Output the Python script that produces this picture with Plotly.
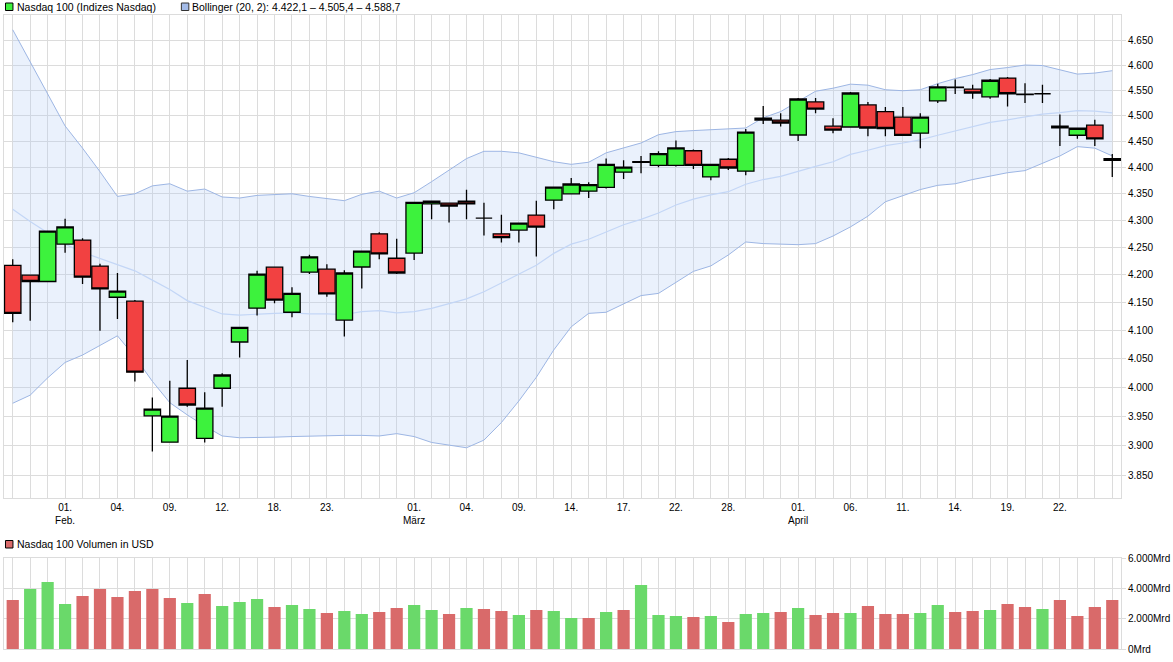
import math
import plotly.graph_objects as go

dates = [
    "2016-01-27", "2016-01-28", "2016-01-29",
    "2016-02-01", "2016-02-02", "2016-02-03", "2016-02-04", "2016-02-05",
    "2016-02-08", "2016-02-09", "2016-02-10", "2016-02-11", "2016-02-12",
    "2016-02-16", "2016-02-17", "2016-02-18", "2016-02-19",
    "2016-02-22", "2016-02-23", "2016-02-24", "2016-02-25", "2016-02-26",
    "2016-02-29",
    "2016-03-01", "2016-03-02", "2016-03-03", "2016-03-04",
    "2016-03-07", "2016-03-08", "2016-03-09", "2016-03-10", "2016-03-11",
    "2016-03-14", "2016-03-15", "2016-03-16", "2016-03-17", "2016-03-18",
    "2016-03-21", "2016-03-22", "2016-03-23", "2016-03-24",
    "2016-03-28", "2016-03-29", "2016-03-30", "2016-03-31",
    "2016-04-01",
    "2016-04-04", "2016-04-05", "2016-04-06", "2016-04-07", "2016-04-08",
    "2016-04-11", "2016-04-12", "2016-04-13", "2016-04-14", "2016-04-15",
    "2016-04-18", "2016-04-19", "2016-04-20", "2016-04-21", "2016-04-22",
    "2016-04-25", "2016-04-26", "2016-04-27",
]

open_ = [4217, 4199, 4187.5, 4256, 4263.5, 4215.6, 4159, 4152, 3950.4, 3905.5,
         3998, 3912, 3998, 4079, 4139.4, 4213.6, 4132, 4204.6, 4210, 4118,
         4214, 4275, 4230, 4239.5, 4331, 4332.5, 4336, 4304.4, 4275, 4282,
         4310, 4338, 4350, 4355, 4362, 4391, 4410, 4404, 4404, 4432,
         4382, 4415.7, 4393, 4495.4, 4491.5, 4462.4, 4527, 4479.5, 4478, 4521,
         4508, 4497, 4466, 4529, 4556, 4552, 4537, 4574, 4542.5, 4543,
         4479.5, 4462, 4481.5, 4413.5]
high = [4228, 4200, 4281, 4303, 4267, 4220, 4203, 4154, 3982, 4011,
        4047.5, 3991, 4024, 4106, 4207, 4214, 4177, 4236.4, 4219, 4208,
        4243, 4278, 4266, 4335, 4336, 4333, 4357.6, 4333, 4310.5, 4295,
        4337, 4363, 4380, 4372, 4417, 4414, 4422, 4431, 4451.6, 4434.6,
        4406, 4418, 4474, 4519, 4505, 4534.6, 4534.6, 4495, 4546.5, 4527,
        4517, 4517, 4505, 4563, 4571, 4561, 4572, 4576, 4564, 4561,
        4502.5, 4476, 4492, 4426]
low = [4114, 4117, 4186, 4240, 4183, 4099, 4120, 4009.6, 3889.6, 3905,
       3966, 3905, 3966, 4051.6, 4126, 4148, 4123, 4201, 4160, 4088.7,
       4175, 4228, 4201, 4227, 4302, 4296, 4302, 4272, 4259, 4259,
       4233, 4321, 4349, 4342, 4360, 4378, 4389, 4400.6, 4402, 4397,
       4375.6, 4395, 4385, 4484, 4479, 4451, 4505, 4466, 4477, 4460,
       4460, 4461, 4437, 4525, 4542.6, 4533, 4533, 4518, 4525, 4525,
       4441, 4455, 4441, 4382]
close = [4130, 4187.5, 4280, 4288, 4195.5, 4174, 4170, 4026, 3962, 3950,
         3969, 3963.6, 4021, 4105, 4201, 4154, 4166, 4232.7, 4165, 4203,
         4243, 4238, 4203, 4334, 4336, 4327, 4331, 4304.4, 4268, 4295,
         4287.6, 4362.7, 4368.5, 4367.5, 4406, 4400.6, 4411, 4426.5, 4437.5, 4404,
         4406, 4399, 4468, 4491.5, 4485.7, 4532.7, 4513, 4472, 4544.5, 4476,
         4475, 4461.6, 4497, 4556.5, 4555, 4544.5, 4569.7, 4543, 4541.5, 4543,
         4476.5, 4475.5, 4455, 4417]

bb_upper = [4671, 4607, 4545, 4480, 4437, 4392, 4345, 4350, 4365, 4369,
            4355, 4359, 4344, 4342, 4347, 4348, 4350, 4345, 4341, 4337,
            4349, 4355, 4342, 4352, 4373, 4395, 4417, 4431, 4431, 4428,
            4420, 4411, 4406, 4410, 4428, 4437, 4447, 4463, 4469, 4471,
            4473, 4474, 4476, 4496, 4508, 4528, 4548, 4554, 4562, 4560,
            4551, 4549, 4551, 4563, 4573, 4581, 4591, 4595, 4600, 4599,
            4591, 4582, 4584, 4588.7]
bb_mid = [4321, 4298, 4277, 4256, 4241, 4230, 4219, 4207, 4190, 4173,
          4153, 4141, 4129, 4127, 4129, 4130, 4131, 4129, 4129, 4128,
          4133, 4135, 4131, 4133, 4139, 4147, 4156, 4169, 4185, 4201,
          4217, 4239, 4256, 4265, 4279, 4292, 4302, 4314, 4329, 4340,
          4348, 4354, 4368, 4377, 4383, 4393, 4402, 4411, 4425, 4433,
          4442, 4447, 4453, 4462, 4470, 4479, 4487, 4492, 4498, 4503,
          4506, 4510, 4509, 4505.4]
bb_lower = [3972, 3986, 4016, 4043, 4056, 4073, 4090, 4053, 4010, 3973,
            3952, 3933, 3916, 3913, 3913, 3914, 3915, 3916, 3916, 3917,
            3917, 3916, 3920, 3915, 3905, 3900, 3896, 3909, 3939, 3976,
            4017, 4065, 4106, 4130, 4132, 4147, 4162, 4166, 4186, 4206,
            4216, 4236, 4260, 4257, 4256, 4255, 4257, 4271, 4288, 4308,
            4335, 4346, 4358, 4366, 4369, 4377, 4383, 4390, 4394, 4408,
            4422, 4440, 4437, 4422.1]

volume = [3230, 3956, 4418, 2967, 3495, 3956, 3429, 3824, 3956, 3363,
          3033, 3626, 2835, 3099, 3297, 2769, 2901, 2637, 2374, 2506,
          2308, 2440, 2703, 2901, 2571, 2308, 2703, 2637, 2506, 2242,
          2571, 2506, 2044, 2044, 2440, 2571, 4220, 2242, 2176, 2110,
          2176, 1780, 2308, 2374, 2440, 2703, 2242, 2374, 2374, 2835,
          2308, 2308, 2374, 2901, 2440, 2506, 2571, 2967, 2769, 2637,
          3231, 2176, 2769, 3231]

tick_labels = {
    "2016-02-01": "01.<br>Feb.", "2016-02-04": "04.", "2016-02-09": "09.",
    "2016-02-12": "12.", "2016-02-18": "18.", "2016-02-23": "23.",
    "2016-03-01": "01.<br>März", "2016-03-04": "04.", "2016-03-09": "09.",
    "2016-03-14": "14.", "2016-03-17": "17.", "2016-03-22": "22.",
    "2016-03-28": "28.", "2016-04-01": "01.<br>April", "2016-04-06": "06.",
    "2016-04-11": "11.", "2016-04-14": "14.", "2016-04-19": "19.",
    "2016-04-22": "22.",
}
price_ticks = [3850, 3900, 3950, 4000, 4050, 4100, 4150, 4200, 4250, 4300,
               4350, 4400, 4450, 4500, 4550, 4600, 4650]
volume_ticks = [0, 2000, 4000, 6000]

legend_price = "Nasdaq 100 (Indizes Nasdaq)"
legend_bb = "Bollinger (20, 2): 4.422,1 \u2013 4.505,4 \u2013 4.588,7"
legend_vol = "Nasdaq 100 Volumen in USD"

# ---- styles ----
GRID = "#DCDCDC"
GREEN = "#3DF23D"
RED = "#F24141"
VGREEN = "#6AD96A"
VRED = "#D96A6A"
BAND_LINE = "#9DB6E4"
MID_LINE = "#C3D6F6"
BAND_FILL = "rgba(170,200,245,0.25)"
FONT = "Liberation Sans"

vol_colors = [VRED] + [VGREEN if close[i] > close[i - 1] else VRED
                       for i in range(1, len(close))]

fig = go.Figure()
fig.add_trace(go.Scatter(x=dates, y=bb_lower, mode="lines",
                         line=dict(color=BAND_LINE, width=1),
                         hoverinfo="skip", showlegend=False))
fig.add_trace(go.Scatter(x=dates, y=bb_upper, mode="lines",
                         line=dict(color=BAND_LINE, width=1),
                         fill="tonexty", fillcolor=BAND_FILL,
                         hoverinfo="skip", showlegend=False))
fig.add_trace(go.Scatter(x=dates, y=bb_mid, mode="lines",
                         line=dict(color=MID_LINE, width=1.2),
                         hoverinfo="skip", showlegend=False))
# candles on an overlaying axis so they are drawn above the band fill
fig.add_trace(go.Candlestick(
    x=dates, open=open_, high=high, low=low, close=close,
    increasing=dict(fillcolor=GREEN, line=dict(color="black", width=1.3)),
    decreasing=dict(fillcolor=RED, line=dict(color="black", width=1.3)),
    whiskerwidth=0, showlegend=False, hoverinfo="skip",
    xaxis="x", yaxis="y3"))
fig.add_trace(go.Bar(x=dates, y=volume, marker=dict(color=vol_colors, line=dict(width=0)),
                     xaxis="x2", yaxis="y2", showlegend=False, hoverinfo="skip"))

# pixel helpers for paper coordinates
L, R, T, B = 3, 49, 15, 13
W, H = 1173, 662
pw, ph = W - L - R, H - T - B


def px(x):
    return (x - L) / pw


def py(y):
    return (H - B - y) / ph


main_bottom = py(498)
vol_top = py(558)
yrange = [math.log10(3812), math.log10(4701)]

ticktext = [tick_labels.get(d, "") for d in dates]

axis_common = dict(showgrid=True, gridcolor=GRID, gridwidth=1,
                   showline=True, linecolor=GRID, linewidth=1, mirror=True,
                   zeroline=False)

fig.update_layout(
    width=W, height=H,
    margin=dict(l=L, r=R, t=T, b=B),
    paper_bgcolor="white", plot_bgcolor="white",
    separators=",.",
    font=dict(family=FONT, size=10, color="black"),
    boxgap=0.06, boxgroupgap=0.0,
    bargap=0.3,
    xaxis=dict(type="category", domain=[0, 1], anchor="y",
               range=[-0.5, len(dates) - 0.5],
               tickmode="array", tickvals=dates, ticktext=ticktext,
               ticks="", tickfont=dict(size=10, family=FONT),
               rangeslider=dict(visible=False), **axis_common),
    yaxis=dict(type="log", domain=[main_bottom, 1], anchor="x", side="right",
               range=yrange,
               tickmode="array", tickvals=price_ticks,
               ticktext=[f"{v:,}".replace(",", ".") for v in price_ticks],
               ticks="outside", ticklen=4, tickcolor=GRID,
               tickfont=dict(size=10, family=FONT), **axis_common),
    yaxis3=dict(type="log", overlaying="y", anchor="x", side="right",
                range=yrange, showgrid=False, showline=False, zeroline=False,
                showticklabels=False, ticks=""),
    xaxis2=dict(type="category", domain=[0, 1], anchor="y2",
                range=[-0.5, len(dates) - 0.5],
                tickmode="array", tickvals=dates, ticktext=[""] * len(dates),
                showticklabels=False, ticks="", **axis_common),
    yaxis2=dict(domain=[0, vol_top], anchor="x2", side="right",
                range=[0, 6000], tickmode="array", tickvals=volume_ticks,
                ticktext=[f"{v:,}".replace(",", ".") + "Mrd" for v in volume_ticks],
                ticks="outside", ticklen=4, tickcolor=GRID,
                tickfont=dict(size=10, family=FONT), **axis_common),
)

shapes = [
    dict(type="rect", xref="paper", yref="paper",
         x0=px(4.5), x1=px(12), y0=py(10.5), y1=py(3), fillcolor=GREEN,
         line=dict(color="black", width=1)),
    dict(type="rect", xref="paper", yref="paper",
         x0=px(181), x1=px(188.5), y0=py(10.5), y1=py(3), fillcolor="#A3BBE8",
         line=dict(color="#333333", width=1)),
    dict(type="rect", xref="paper", yref="paper",
         x0=px(4.5), x1=px(12), y0=py(548), y1=py(540.5), fillcolor=VRED,
         line=dict(color="black", width=1)),
]
annotations = [
    dict(text=legend_price, xref="paper", yref="paper", x=px(14), y=py(6.5),
         xanchor="left", yanchor="middle", showarrow=False,
         font=dict(size=10.5, family=FONT, color="black")),
    dict(text=legend_bb, xref="paper", yref="paper", x=px(190), y=py(6.5),
         xanchor="left", yanchor="middle", showarrow=False,
         font=dict(size=10.5, family=FONT, color="black")),
    dict(text=legend_vol, xref="paper", yref="paper", x=px(14.5), y=py(544),
         xanchor="left", yanchor="middle", showarrow=False,
         font=dict(size=10.5, family=FONT, color="black")),
]
fig.update_layout(shapes=shapes, annotations=annotations)

fig.write_html("out.html",
               config={"displayModeBar": False},
               post_script="document.body.style.margin='0';"
                           "document.body.style.overflow='hidden';")
